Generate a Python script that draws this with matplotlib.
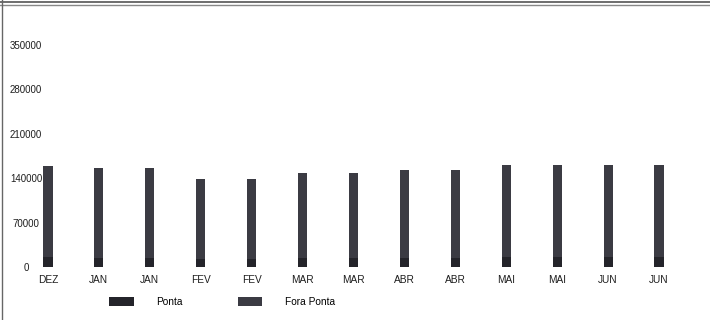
import numpy as np
import matplotlib.pyplot as plt
from matplotlib.lines import Line2D

meses = ["DEZ", "JAN", "JAN", "FEV", "FEV", "MAR", "MAR", "ABR", "ABR", "MAI", "MAI", "JUN", "JUN"]
ponta = [15000, 14000, 14000, 13000, 13000, 14000, 14000, 14000, 14000, 15000, 15000, 15000, 15000]
total = [160000, 156000, 156000, 139000, 139000, 148000, 148000, 153000, 153000, 161000, 161000, 161000, 161000]
fora_ponta = [t - p for t, p in zip(total, ponta)]
yticks = [0, 70000, 140000, 210000, 280000, 350000]

plt.rcParams['font.family'] = ['Liberation Sans', 'DejaVu Sans']

fig = plt.figure(figsize=(7.1, 3.2), dpi=100)
ax = fig.add_axes([22.5 / 710, 1 - 267 / 320, 662 / 710, 222 / 320])

x = np.arange(len(meses))
w = 0.18
b1 = ax.bar(x, ponta, width=w, color="#24242a", label="Ponta")
b2 = ax.bar(x, fora_ponta, width=w, bottom=ponta, color="#3b3b43", label="Fora Ponta")

ax.set_xlim(-0.5, len(meses) - 0.5)
ax.set_ylim(0, 350000)
ax.set_xticks(x)
ax.set_xticklabels(meses, fontsize=7.3, color="#1e1e1e")
ax.set_yticks(yticks)
ax.set_yticklabels([str(v) for v in yticks], fontsize=7, color="#1e1e1e", ha="center")
ax.tick_params(axis="x", length=0, pad=5.5)
ax.tick_params(axis="y", length=0, pad=-2.5)
for s in ax.spines.values():
    s.set_visible(False)

fig.legend(handles=[b1, b2], loc="center", bbox_to_anchor=(222 / 710, 1 - 302 / 320),
           ncol=2, frameon=False, fontsize=7.3, handlelength=2.4, handleheight=0.9,
           handletextpad=2.2, columnspacing=5.5)

# moldura
fig.add_artist(Line2D([0, 1], [1 - 2 / 320, 1 - 2 / 320], color="#555555", lw=1.2))
fig.add_artist(Line2D([0, 1], [1 - 5 / 320, 1 - 5 / 320], color="#888888", lw=1.0))
fig.add_artist(Line2D([2 / 710, 2 / 710], [0, 1], color="#666666", lw=1.0))

fig.savefig("out.png", dpi=100)
